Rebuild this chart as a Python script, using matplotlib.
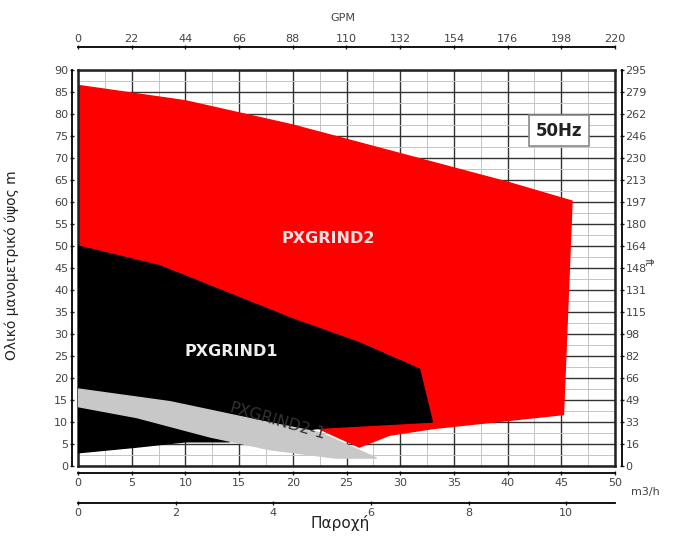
import numpy as np
import matplotlib
matplotlib.use("Agg")
import matplotlib.pyplot as plt

# Curve envelopes (Q in m3/h, H in m)
red_q = [0, 10, 20, 30, 40, 46, 45.2, 33, 29, 26.2, 22.5, 0]
red_h = [86.5, 83, 77.5, 71, 64.5, 60.2, 11.7, 8.5, 7.0, 4.3, 8.4, 20]

black_q = [0, 7.6, 20, 26.2, 31.8, 33, 22.5, 14, 10, 5.5, 0]
black_h = [50, 45.5, 33.4, 28, 22, 10, 8.6, 5.5, 5.5, 4.3, 3]

grey_q = [0, 8.6, 17.9, 22.5, 27.8, 24, 17.9, 12.3, 5.5, 0]
grey_h = [17.5, 14.6, 9.8, 7.6, 1.8, 1.8, 3.7, 6.6, 11, 13.5]

m_ticks = list(range(0, 95, 5))
ft_labels = ["0", "16", "33", "49", "66", "82", "98", "115", "131", "148", "164",
             "180", "197", "213", "230", "246", "262", "279", "295"]
q_ticks = list(range(0, 55, 5))
gpm_ticks = [0, 22, 44, 66, 88, 110, 132, 154, 176, 198, 220]
ls_ticks = [0, 2, 4, 6, 8, 10]

fig = plt.figure(figsize=(6.75, 5.37), dpi=100)
ax = fig.add_axes([78 / 675, 71 / 537, 537 / 675, 396 / 537])

ax.fill(red_q, red_h, color="#ff0000", zorder=2)
ax.fill(black_q, black_h, color="#000000", zorder=3)
ax.fill(grey_q, grey_h, color="#c8c8c8", zorder=4)

ax.set_xlim(0, 50)
ax.set_ylim(0, 90)
ax.set_xticks(q_ticks)
ax.set_yticks(m_ticks)
ax.set_xticks(np.arange(0, 50, 2.5), minor=True)
ax.set_yticks(np.arange(0, 90, 2.5), minor=True)
ax.grid(which="major", color="#333333", linewidth=1.0, zorder=1)
ax.grid(which="minor", color="#c4c4c4", linewidth=0.7, zorder=1)
ax.set_axisbelow(True)
ax.tick_params(which="both", length=0, labelbottom=False, labelleft=False)
for s in ax.spines.values():
    s.set_linewidth(1.8)
    s.set_color("#222222")

tk = dict(labelsize=8, labelcolor="#444444", length=3, width=1, color="#222222", direction="inout")

# left m axis
left = ax.secondary_yaxis(-0.012)
left.set_yticks(m_ticks)
left.tick_params(**tk, pad=1)
left.spines["left"].set_linewidth(1.3)

# right ft axis
right = ax.secondary_yaxis(1.013)
right.set_yticks(m_ticks)
right.set_yticklabels(ft_labels)
right.tick_params(**tk, pad=1)
right.spines["right"].set_linewidth(1.3)

# bottom m3/h axis
bot = ax.secondary_xaxis(-0.018)
bot.set_xticks(q_ticks)
bot.tick_params(**tk, pad=2)
bot.spines["bottom"].set_linewidth(1.3)

# bottom l/s axis
ls = ax.secondary_xaxis(-0.093, functions=(lambda q: q / 4.545, lambda v: v * 4.545))
ls.set_xticks(ls_ticks)
ls.tick_params(**tk, pad=2)
ls.spines["bottom"].set_linewidth(1.3)

# top GPM axis
top = ax.secondary_xaxis(1.058, functions=(lambda q: q * 4.4, lambda g: g / 4.4))
top.set_xticks(gpm_ticks)
top.tick_params(**tk, pad=1)
top.spines["top"].set_linewidth(1.3)

ax.text(23.3, 51.7, "PXGRIND2", color="#ffe0e0", fontsize=11.5, fontweight="bold",
        ha="center", va="center", zorder=5)
ax.text(14.3, 26, "PXGRIND1", color="#eeeeee", fontsize=11.5, fontweight="bold",
        ha="center", va="center", zorder=5)
ax.text(18.6, 10.2, "PXGRIND2-1", color="#333333", fontsize=11.5, rotation=-16,
        ha="center", va="center", zorder=5)
ax.text(44.8, 76.2, "50Hz", fontsize=12, fontweight="bold", color="#222222",
        ha="center", va="center", zorder=6,
        bbox=dict(boxstyle="square,pad=0.4", facecolor="white", edgecolor="#888888", linewidth=1.2))

fig.text(343 / 675, 1 - 18 / 537, "GPM", fontsize=8, color="#444444", ha="center", va="center")
fig.text(645 / 675, 1 - 492 / 537, "m3/h", fontsize=8, color="#444444", ha="center", va="center")
fig.text(648 / 675, 1 - 262 / 537, "ft", fontsize=8, color="#444444", rotation=-90,
         ha="center", va="center")
fig.text(340 / 675, 1 - 523 / 537, "Παροχή", fontsize=11, color="#222222", ha="center", va="center")
fig.text(12 / 675, 1 - 265 / 537, "Ολικό μανομετρικό ύψος m", fontsize=10, color="#222222",
         rotation=90, ha="center", va="center")

fig.savefig("out.png", dpi=100)
